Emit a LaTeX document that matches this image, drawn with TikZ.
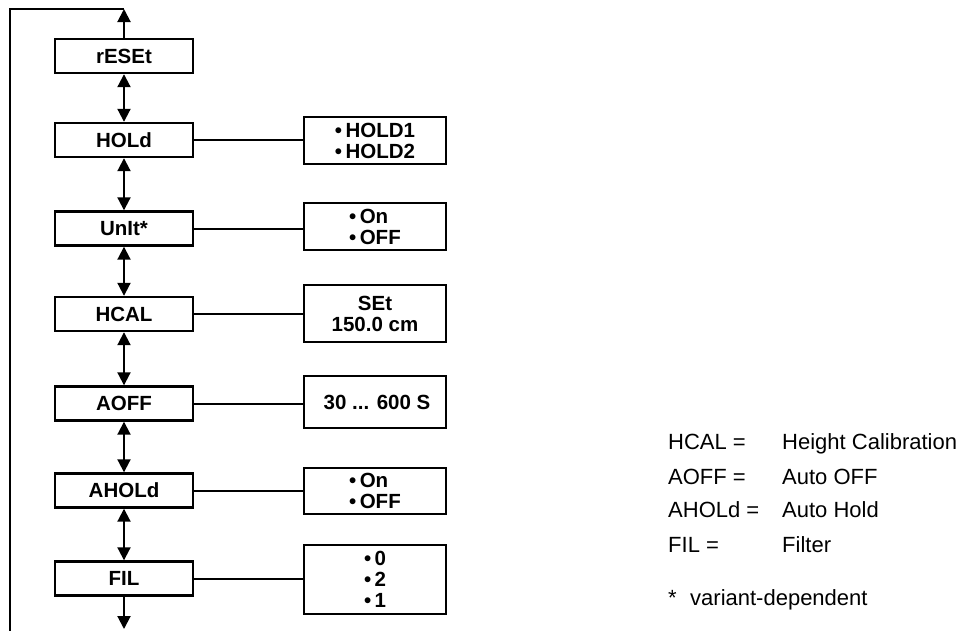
\documentclass[tikz,border=0pt]{standalone}
\usepackage{fontspec}
\setmainfont{Liberation Sans}
\usetikzlibrary{arrows.meta}
\begin{document}
\begin{tikzpicture}[x=1pt,y=-1pt,
  lbox/.style={draw,line width=2.4pt,minimum width=138pt,minimum height=34pt,inner sep=0pt,
    font=\fontsize{20.5}{21}\selectfont\bfseries},
  obox/.style={draw,line width=2.4pt,minimum width=142pt,inner sep=0pt,align=left,
    font=\fontsize{20.5}{21}\selectfont\bfseries},
  link/.style={line width=2pt},
  arr/.style={line width=2pt,-{Triangle[width=13pt,length=13pt]}},
  darr/.style={line width=2pt,{Triangle[width=13pt,length=13pt]}-{Triangle[width=13pt,length=13pt]}},
  leg/.style={anchor=base west,inner sep=0pt,font=\fontsize{22}{26}\selectfont}]
\useasboundingbox (0,0) rectangle (969,630);
% left column
\node[lbox] (reset) at (124,56) {rESEt};
\node[lbox] (hold) at (124,140) {HOLd};
\node[lbox] (unit) at (124,228.5) {UnIt*};
\node[lbox] (hcal) at (124,314) {HCAL};
\node[lbox] (aoff) at (124,403.5) {AOFF};
\node[lbox] (ahold) at (124,490.5) {AHOLd};
\node[lbox] (fil) at (124,578.5) {FIL};
% right column
\node[obox,minimum height=47pt] (holdo) at (375,140.5) {\textbullet\,HOLD1\\\textbullet\,HOLD2};
\node[obox,minimum height=47pt] (unito) at (375,226.5) {\textbullet\,On\\\textbullet\,OFF};
\node[obox,minimum height=57pt,align=center] (hcalo) at (375,313.5) {SEt\\150.0 cm};
\node[obox,minimum height=52pt] (aoffo) at (375,402) {\hspace*{4pt}30 ... 600 S};
\node[obox,minimum height=46pt] (aholdo) at (375,491) {\textbullet\,On\\\textbullet\,OFF};
\node[obox,minimum height=69pt] (filo) at (375,579.5) {\textbullet\,0\\\textbullet\,2\\\textbullet\,1};
% links
\foreach \a/\b in {hold/holdo,unit/unito,hcal/hcalo,aoff/aoffo,ahold/aholdo,fil/filo}
  \draw[link] (\a.east) -- (\a.east -| \b.west);
% double arrows
\foreach \a/\b in {reset/hold,hold/unit,unit/hcal,hcal/aoff,aoff/ahold,ahold/fil}
  \draw[darr] (\a.south) -- (\b.north);
% loop
\coordinate (top) at (124,9);
\coordinate (tl) at (10,9);
\coordinate (bl) at (10,632);
\coordinate (bot) at (124,629);
\draw[arr] (reset.north) -- (top);
\draw[line width=2.4pt] (bl) -- (tl) -- (top);
\draw[arr] (fil.south) -- (bot);
% legend
\node[leg] (l1a) at (668,449) {HCAL =};
\node[leg] (l1b) at (782,449) {Height Calibration};
\node[leg] (l2a) at (668,484) {AOFF =};
\node[leg] (l2b) at (782,484) {Auto OFF};
\node[leg] (l3a) at (668,517) {AHOLd =};
\node[leg] (l3b) at (782,517) {Auto Hold};
\node[leg] (l4a) at (668,552) {FIL =};
\node[leg] (l4b) at (782,552) {Filter};
\node[leg] (l5a) at (668,605) {*};
\node[leg] (l5b) at (690,605) {variant-dependent};
\end{tikzpicture}
\end{document}
